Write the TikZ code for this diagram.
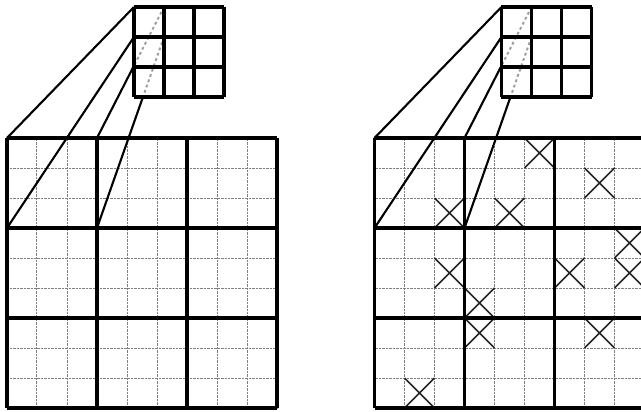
\documentclass[tikz,border=0pt]{standalone}
\usetikzlibrary{calc}
\begin{document}
\begin{tikzpicture}[x=0.75cm,y=0.75cm,
    finegrid/.style={gray,line width=0.7pt,dash pattern=on 0.5pt off 0.5pt},
    coarsegrid/.style={black,line width=2.4pt},
    kernelgrid/.style={black,line width=2.3pt},
    ray/.style={black,line width=1.5pt},
    hidden/.style={gray!75,line width=1.4pt,dash pattern=on 2pt off 2pt},
    cross/.style={black!85,line width=1.2pt}]
    \useasboundingbox (-0.233,-9.133) rectangle (21.133,4.6);
    \clip (-0.233,-9.133) rectangle (21.133,4.6);

    % Two panels: plain grid and grid with marked cells
    \foreach \s in {0,12.25}{
        \begin{scope}[shift={(\s,0)}]
            % Fine grid
            \draw[finegrid] (0,-9) grid[step=1] (9,0);

            % Marked cells (right panel only)
            \ifdim \s pt>1pt
                \foreach \c/\r in {5/0,7/1,2/2,4/2,8/3,2/4,6/4,8/4,3/5,3/6,7/6,1/8}
                    \draw[cross] (\c,-\r) -- ++(1,-1) (\c+1,-\r) -- ++(-1,-1);
            \fi

            % Coarse grid
            \draw[coarsegrid] (0,-9) grid[step=3] (9,0);

            % Corner points
            \coordinate (k0) at (4.233,4.367);
            \coordinate (k1) at (4.233,3.367);
            \coordinate (k3) at (5.233,4.367);
            \coordinate (k4) at (5.233,3.367);
            \coordinate (g0) at (0,0);
            \coordinate (g1) at (0,-3);
            \coordinate (g2) at (3,0);
            \coordinate (g3) at (3,-3);
            \coordinate (e1) at ($(k3)!0.448!(g2)$);
            \coordinate (e2) at ($(k4)!0.314!(g3)$);

            % Hidden parts of the rays
            \draw[hidden] (k3) -- (e1);
            \draw[hidden] (k4) -- (e2);

            % Kernel
            \begin{scope}[shift={(4.233,1.367)}]
                \draw[kernelgrid] (0,0) grid[step=1] (3,3);
            \end{scope}

            % Rays
            \draw[ray] (k0) -- (g0);
            \draw[ray] (k1) -- (g1);
            \draw[ray] (e1) -- (g2);
            \draw[ray] (e2) -- (g3);
        \end{scope}
    }
\end{tikzpicture}
\end{document}
